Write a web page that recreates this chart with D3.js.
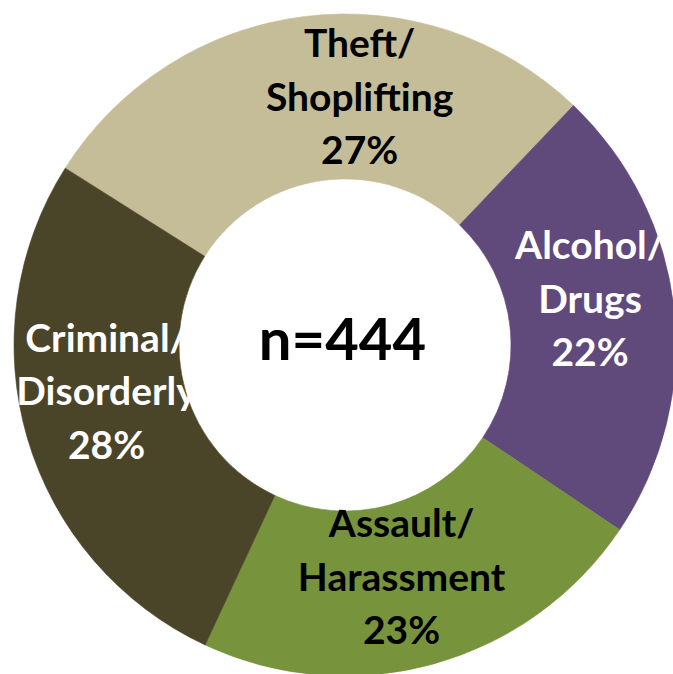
<!DOCTYPE html>
<html>
<head>
<meta charset="utf-8">
<script src="https://cdn.jsdelivr.net/npm/d3@7/dist/d3.min.js"></script>
<style>
  html, body { margin: 0; padding: 0; background: #ffffff; }
  svg { display: block; }
  text { font-family: Lato, "Open Sans", "Liberation Sans", sans-serif; font-weight: 700; }
</style>
</head>
<body>
<div id="chart"></div>
<script>
// ---- data ----
const categories = ["Theft/Shoplifting", "Alcohol/Drugs", "Assault/Harassment", "Criminal/Disorderly"];
const labelLines = [["Theft/", "Shoplifting"], ["Alcohol/", "Drugs"], ["Assault/", "Harassment"], ["Criminal/", "Disorderly"]];
const counts = [125, 99, 100, 120];               // slice sizes
const percentLabels = ["27%", "22%", "23%", "28%"]; // percentages as printed on the chart
const centerLabel = "n=444";

// ---- styles ----
const colors = ["#C4BD97", "#5F4A7B", "#77933C", "#4A4429"];
const textColors = ["#000000", "#ffffff", "#000000", "#ffffff"];
const labelNudge = [[45, 0], [-2, -18], [-10, -6], [0, -22]];

const W = 673, H = 674;
const cx = 345, cy = 345;
const outerR = 331, innerR = 166, holeR = 165;
const lineGap = 53.5, labelSize = 39;

const svg = d3.select("#chart").append("svg").attr("width", W).attr("height", H);
const g = svg.append("g").attr("transform", `translate(${cx},${cy})`);

const startAngle = -57.7 * Math.PI / 180;
const pie = d3.pie().sort(null).value(d => d.value)
  .startAngle(startAngle).endAngle(startAngle + 2 * Math.PI);
const data = categories.map((c, i) => ({ name: c, value: counts[i], i }));
const arcs = pie(data);

const arc = d3.arc().innerRadius(innerR).outerRadius(outerR);
const midArc = d3.arc().innerRadius(innerR).outerRadius(outerR);

g.selectAll("path.slice").data(arcs).enter().append("path")
  .attr("class", "slice")
  .attr("d", arc)
  .attr("fill", d => colors[d.data.i])
  .attr("stroke", d => colors[d.data.i])
  .attr("stroke-width", 0.6);

const labels = g.selectAll("text.lbl").data(arcs).enter().append("text")
  .attr("class", "lbl")
  .attr("text-anchor", "middle")
  .attr("font-size", labelSize)
  .attr("fill", d => textColors[d.data.i])
  .attr("transform", d => {
    const c = midArc.centroid(d);
    const n = labelNudge[d.data.i];
    return `translate(${c[0] + n[0]},${c[1] + n[1]})`;
  });

labels.each(function(d) {
  const lines = labelLines[d.data.i].concat([percentLabels[d.data.i]]);
  const t = d3.select(this);
  lines.forEach((s, k) => {
    t.append("tspan").attr("x", 0).attr("y", (k - 1) * lineGap + 12.5).text(s);
  });
});

// white centre disc drawn over the labels, as in the original
g.append("circle").attr("r", holeR).attr("fill", "#ffffff");

g.append("text")
  .attr("text-anchor", "middle")
  .attr("x", -2.5)
  .attr("y", 15)
  .attr("font-size", 58)
  .attr("fill", "#000000")
  .text(centerLabel);
</script>
</body>
</html>
